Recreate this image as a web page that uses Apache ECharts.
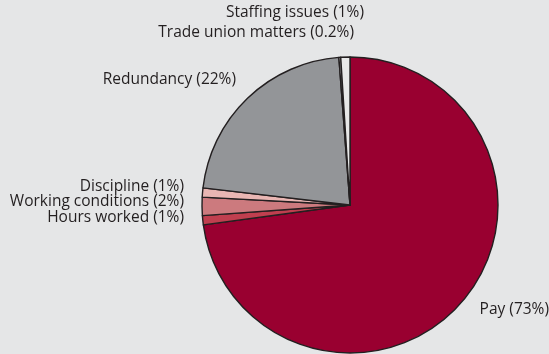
<!DOCTYPE html>
<html>
<head>
<meta charset="utf-8">
<script src="https://cdn.jsdelivr.net/npm/echarts@6/dist/echarts.min.js"></script>
<style>
  html, body { margin: 0; padding: 0; background: #e5e6e7; }
  #chart { width: 549px; height: 354px; }
</style>
</head>
<body>
<div id="chart"></div>
<script>
// Causes of working days lost, share (%)
const categories = ['Pay', 'Hours worked', 'Working conditions', 'Discipline', 'Redundancy', 'Trade union matters', 'Staffing issues'];
const shares = [73, 1, 2, 1, 22, 0.2, 1];

const colors = ['#990030', '#c03f4f', '#cc7a7e', '#e9b6b3', '#939598', '#d9d9da', '#e8e8e8'];
// label anchor points (x, y, align)
const labelSpots = [
  [549, 310, 'right'],
  [184, 218, 'right'],
  [184, 202, 'right'],
  [184, 187, 'right'],
  [236, 80, 'right'],
  [354, 33, 'right'],
  [364, 13, 'right']
];

const chart = echarts.init(document.getElementById('chart'), null, { renderer: 'canvas' });
chart.setOption({
  backgroundColor: '#e5e6e7',
  animation: false,
  series: [{
    type: 'pie',
    center: [350, 205],
    radius: [0, 148],
    startAngle: 90,
    clockwise: true,
    minAngle: 0,
    avoidLabelOverlap: false,
    data: categories.map((name, i) => ({
      name,
      value: shares[i],
      itemStyle: { color: colors[i] }
    })),
    itemStyle: { borderColor: '#231f20', borderWidth: 1.4 },
    label: {
      show: true,
      position: 'outside',
      formatter: p => p.name + ' (' + p.value + '%)',
      color: '#231f20',
      fontFamily: 'Open Sans',
      fontSize: 15.5
    },
    labelLine: { show: false },
    labelLayout: params => {
      const s = labelSpots[params.dataIndex];
      return { x: s[0], y: s[1], align: s[2], verticalAlign: 'middle', hideOverlap: false };
    }
  }]
});
</script>
</body>
</html>
